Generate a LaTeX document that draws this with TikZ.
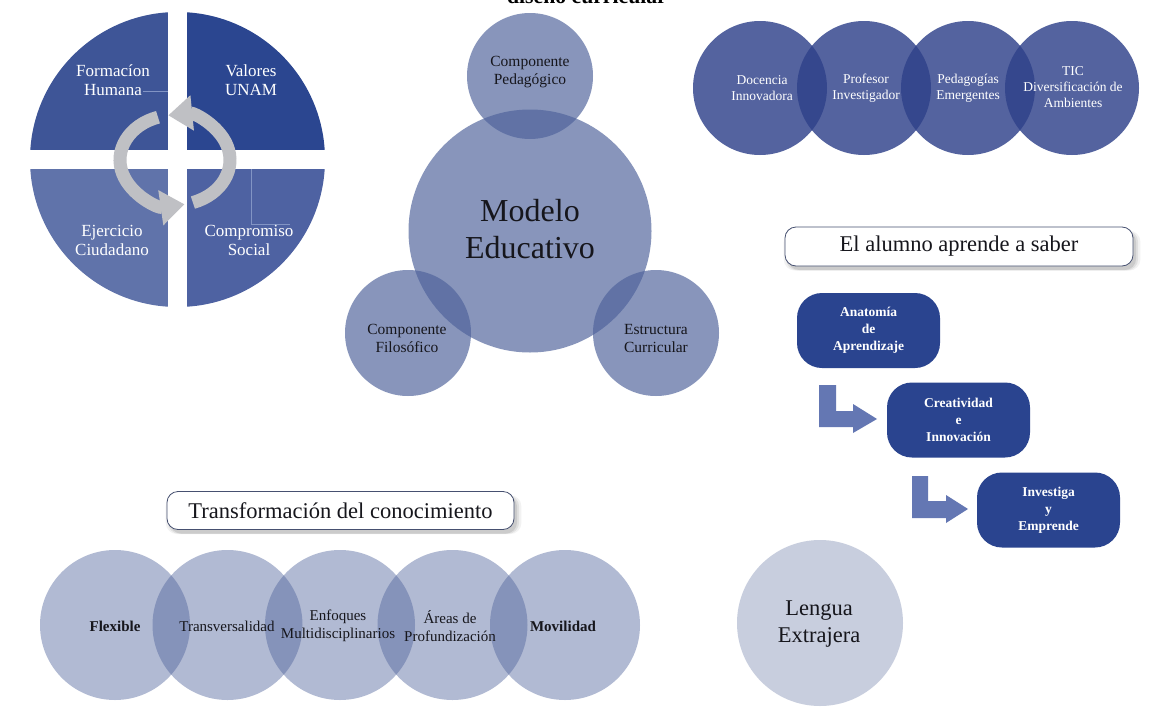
\documentclass[tikz,border=0pt]{standalone}
\usepackage{fontspec}
\setmainfont{Liberation Serif}
\usetikzlibrary{arrows.meta,shadows}
\definecolor{qTL}{RGB}{62,85,151}
\definecolor{qTR}{RGB}{43,70,144}
\definecolor{qBL}{RGB}{96,115,170}
\definecolor{qBR}{RGB}{78,98,162}
\definecolor{qlinec}{RGB}{130,148,196}
\definecolor{ringgray}{RGB}{191,192,196}
\definecolor{venn}{RGB}{78,98,155}
\definecolor{trblue}{RGB}{47,65,138}
\definecolor{boxblue}{RGB}{42,68,143}
\definecolor{bentblue}{RGB}{100,119,179}
\definecolor{lenguac}{RGB}{200,206,222}
\definecolor{txtdark}{RGB}{22,22,28}
\definecolor{boxedge}{RGB}{70,80,112}
\newcommand{\myfsz}[2]{\fontsize{#1pt}{#2pt}\selectfont}
\begin{document}
\begin{tikzpicture}[x=1pt,y=-1pt,
  qline/.style={draw=qlinec,line width=0.7pt},
  ringarrow/.style={draw=ringgray,line width=13pt,-{Triangle[width=34pt,length=24pt]}},
  vsmall/.style={circle,fill=venn,fill opacity=0.67,minimum size=126pt,inner sep=0pt},
  vbig/.style={circle,fill=venn,fill opacity=0.67,minimum size=243pt,inner sep=0pt},
  trc/.style={circle,fill=trblue,fill opacity=0.82,minimum size=134pt,inner sep=0pt},
  botc/.style={circle,fill=venn,fill opacity=0.44,minimum size=150pt,inner sep=0pt},
  lbl/.style={align=center,text=txtdark,inner sep=0pt},
  wlbl/.style={align=center,text=white,inner sep=0pt},
  stepbox/.style={rounded corners=25pt,fill=boxblue,minimum width=143pt,minimum height=75pt,
     inner sep=0pt,text=white,align=center,font=\bfseries\myfsz{13.5}{17}},
  titlebox/.style={draw=boxedge,line width=0.8pt,rounded corners=11pt,fill=white,
     minimum width=348pt,minimum height=39pt,inner sep=0pt,text=txtdark,font=\myfsz{22.5}{26},
     general shadow={fill=black,opacity=0.05,shadow xshift=3pt,shadow yshift=-4pt,shadow scale=1.025},
     general shadow={fill=black,opacity=0.07,shadow xshift=3pt,shadow yshift=-4pt,shadow scale=1.012},
     general shadow={fill=black,opacity=0.09,shadow xshift=3pt,shadow yshift=-4pt}},
  bent/.style={fill=bentblue}]
\useasboundingbox (0,0) rectangle (1168,715);
\fill[white] (0,0) rectangle (1168,715);

% ---------- title (cut off) ----------
\begin{scope}
\clip (0,0) rectangle (1168,715);
\node[anchor=base,text=black,inner sep=0pt,font=\bfseries\myfsz{21.7}{24}] (titulo) at (587,3.5) {diseño curricular};
\end{scope}

% ---------- quadrant circle ----------
\coordinate (qc) at (177.5,159.5);
\begin{scope}
\clip (qc) circle (147.5);
\fill[qTL] (25,8) rectangle (168,150);
\fill[qTR] (187,8) rectangle (330,150);
\fill[qBL] (25,169) rectangle (168,312);
\fill[qBR] (187,169) rectangle (330,312);
\end{scope}
\draw[qline] (143,91) -- (168,91);
\draw[qline] (251,169) -- (251,224) -- (290,224);

\coordinate (ringc) at (175,160);
\draw[ringarrow] ([shift={(-108:55 and 45)}]ringc) arc[start angle=-108,end angle=-280,x radius=55,y radius=45];
\draw[ringarrow] ([shift={(71:55 and 45)}]ringc) arc[start angle=71,end angle=-97,x radius=55,y radius=45];

\node[wlbl,font=\myfsz{17}{19}] (formacion) at (113,80) {Formacíon\\Humana};
\node[wlbl,font=\myfsz{17}{19}] (valores) at (251,80) {Valores\\UNAM};
\node[wlbl,font=\myfsz{17}{19}] (ejercicio) at (112,240) {Ejercicio\\Ciudadano};
\node[wlbl,font=\myfsz{17}{19}] (compromiso) at (249,240) {Compromiso\\Social};

% ---------- central venn ----------
\node[vsmall] (pedag) at (530,76) {};
\node[vbig] (modelo) at (530,231) {};
\node[vsmall] (filos) at (408,333) {};
\node[vsmall] (estruc) at (656,333) {};
\node[lbl,font=\myfsz{32}{37}] (modelotxt) at (530,229) {Modelo\\Educativo};
\node[lbl,font=\myfsz{15.5}{18}] (pedagtxt) at (530,72) {Componente\\Pedagógico};
\node[lbl,font=\myfsz{15.5}{18}] (filostxt) at (407,338) {Componente\\Filosófico};
\node[lbl,font=\myfsz{15.5}{18}] (estructxt) at (656,338) {Estructura\\Curricular};

% ---------- top right chain ----------
\node[trc] (docc) at (760,88) {};
\node[trc] (profc) at (864,88) {};
\node[trc] (pedc) at (968,88) {};
\node[trc] (ticc) at (1072,88) {};
\node[wlbl,font=\myfsz{13.5}{16}] (doct) at (762,88) {Docencia\\Innovadora};
\node[wlbl,font=\myfsz{13.5}{16}] (proft) at (866,88) {Profesor\\Investigador};
\node[wlbl,font=\myfsz{13.5}{16}] (pedt) at (968,88) {Pedagogías\\Emergentes};
\node[wlbl,font=\myfsz{13.5}{16}] (tict) at (1073,87) {TIC\\Diversificación de\\Ambientes};

% ---------- right column ----------
\node[titlebox] (alumnobox) at (959,246.5) {El alumno aprende a saber};

\node[stepbox] (anat) at (868.5,330.5) {Anatomía\\de\\Aprendizaje};
\node[stepbox] (creat) at (958.5,420) {Creatividad\\e\\Innovación};
\node[stepbox] (invest) at (1048.5,510) {Investiga\\y\\Emprende};

\fill[bent] (819,385) -- (836,385) -- (836,411) -- (853,411) -- (853,404) -- (877,419)
  -- (853,433) -- (853,427) -- (819,427) -- cycle;
\fill[bent] (912,476) -- (928,476) -- (928,501) -- (946,501) -- (946,495) -- (968,509)
  -- (946,523) -- (946,518) -- (912,518) -- cycle;

% ---------- bottom left ----------
\node[titlebox,minimum width=347pt,minimum height=38pt] (transbox) at (340.5,510.5) {Transformación del conocimiento};

\node[botc] (flexc) at (115,625) {};
\node[botc] (transvc) at (227.5,625) {};
\node[botc] (enfc) at (340,625) {};
\node[botc] (areac) at (452.5,625) {};
\node[botc] (movc) at (565,625) {};
\node[lbl,font=\bfseries\myfsz{15}{17.5}] (flext) at (115,626) {Flexible};
\node[lbl,font=\myfsz{15}{17.5}] (transvt) at (227,626) {Transversalidad};
\node[lbl,font=\myfsz{15}{17.5}] (enft) at (338,626) {Enfoques\\Multidisciplinarios};
\node[lbl,font=\myfsz{15}{17.5}] (areat) at (450,626) {Áreas de\\Profundización};
\node[lbl,font=\bfseries\myfsz{15}{17.5}] (movt) at (563,626) {Movilidad};

% ---------- lengua ----------
\node[circle,fill=lenguac,minimum size=166pt,inner sep=0pt] (lenguac) at (820,623) {};
\node[lbl,font=\myfsz{22.5}{27}] (lenguat) at (819,624) {Lengua\\Extrajera};
\end{tikzpicture}
\end{document}
